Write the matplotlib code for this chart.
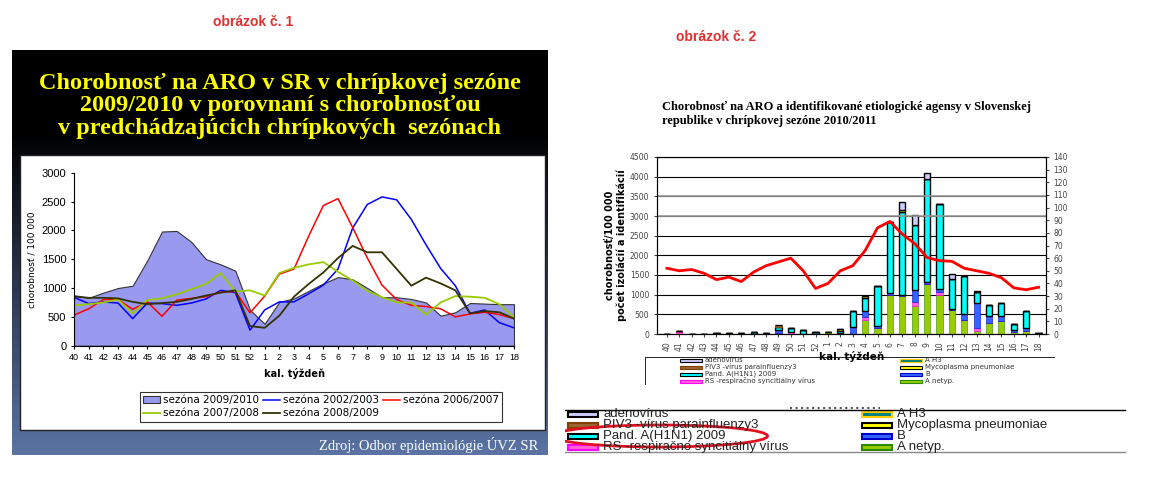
import numpy as np
import matplotlib
matplotlib.use("Agg")
import matplotlib.pyplot as plt
from matplotlib.patches import Rectangle, Ellipse

W, H = 1156, 495
weeks = ["40","41","42","43","44","45","46","47","48","49","50","51","52",
         "1","2","3","4","5","6","7","8","9","10","11","12","13","14","15","16","17","18"]

s0910 = [860,830,920,1000,1040,1480,1980,1990,1800,1500,1410,1300,620,380,760,820,950,1080,1190,1150,1000,840,840,810,750,520,580,740,730,720,720]
s0203 = [840,730,760,740,470,740,730,700,740,810,960,920,270,620,760,760,900,1050,1330,2040,2450,2580,2530,2190,1750,1340,1040,560,620,400,310]
s0607 = [530,640,800,800,630,760,510,790,820,850,930,940,570,860,1240,1330,1900,2430,2550,2050,1520,1050,800,700,680,640,500,550,580,540,470]
s0708 = [700,720,750,800,560,790,820,890,980,1070,1260,940,960,870,1260,1350,1410,1450,1280,1130,950,840,750,750,540,750,860,850,830,720,490]
s0809 = [860,830,830,820,760,720,740,760,810,870,920,960,340,310,520,850,1070,1270,1520,1730,1620,1620,1330,1040,1180,1080,960,560,600,580,470]

# right chart (2010/2011)
morbidity_line = [52,50,51,48,43,45,41.5,49,54,57,60,50,36,40,50,54,66,84,89,79,71.5,60.5,58,57.5,52,50,48,44.5,36.5,35,37]
a_netyp = [0,0,0,0,0,0,0,0,0,30,0,0,0,40,20,0,350,150,1000,970,720,1270,1000,600,350,80,280,330,50,80,0]
rs      = [0,70,0,0,0,0,0,0,0,0,50,0,0,0,0,0,80,0,0,0,100,0,60,0,0,70,0,0,0,0,0]
b_vir   = [0,0,0,0,0,0,0,0,20,60,0,0,0,0,0,170,150,50,40,30,300,50,80,30,160,630,170,120,50,60,0]
pand    = [0,0,0,0,20,20,20,50,0,80,100,100,60,0,60,420,340,1020,1810,2090,1640,2630,2160,770,960,280,300,330,150,440,20]
myco    = [0,0,0,0,0,0,0,0,0,0,0,0,0,0,50,0,40,0,0,50,0,0,0,0,0,0,0,0,0,0,0]
ah3     = [0]*31
piv3    = [0,0,0,0,0,0,0,0,0,70,0,0,0,0,0,0,0,0,0,0,0,0,0,0,0,0,0,0,0,0,0]
adeno   = [0,0,0,0,0,0,0,0,0,0,0,0,0,0,0,0,0,0,0,220,260,150,0,130,0,30,0,0,0,0,0]

def ax_px(x0, y0, x1, y1, **kw):
    return fig.add_axes([x0/W, 1-y1/H, (x1-x0)/W, (y1-y0)/H], **kw)

fig = plt.figure(figsize=(W/100, H/100), dpi=100)
fig.patch.set_facecolor("white")

fig.text(253/W, 1-22/H, "obrázok č. 1", color="#e03030", fontsize=10, fontweight="bold",
         ha="center", va="center", family="Liberation Sans")
fig.text(716/W, 1-37/H, "obrázok č. 2", color="#e03030", fontsize=10, fontweight="bold",
         ha="center", va="center", family="Liberation Sans")

# ---------- left panel background ----------
bg = ax_px(12, 50, 548, 455)
grad = np.ones((100, 1, 3))
t = np.clip((np.linspace(0, 1, 100) - 0.2) / 0.8, 0, 1)
for i, c in enumerate([0x5a, 0x73, 0xa3]):
    grad[:, 0, i] = t * c / 255
bg.imshow(grad, aspect="auto", extent=[0, 1, 0, 1], origin="upper")
bg.add_patch(Rectangle((8/536, (455-430)/405), (545-20)/536, (430-155)/405,
                       facecolor="white", edgecolor="#222222", lw=1))
bg.set_xlim(0, 1); bg.set_ylim(0, 1); bg.axis("off")
fig.text(280/W, 1-106/H, "Chorobnosť na ARO v SR v chrípkovej sezóne\n2009/2010 v porovnaní s chorobnosťou\nv predchádzajúcich chrípkových  sezónach",
         color="#ffff00", fontsize=17.5, fontweight="bold", family="Liberation Serif",
         ha="center", va="center", linespacing=1.1)
fig.text(538/W, 1-445/H, "Zdroj: Odbor epidemiológie ÚVZ SR", color="white", fontsize=10.5,
         family="Liberation Serif", ha="right", va="center")

# ---------- left chart ----------
ax = ax_px(74, 172.7, 514, 345.7)
x = np.arange(len(weeks))
ax.fill_between(x, s0910, color="#9999f0", edgecolor="#333333", lw=0.8, label="sezóna 2009/2010")
ax.plot(x, s0203, color="#0000ff", lw=1.1, label="sezóna 2002/2003")
ax.plot(x, s0607, color="#ff0000", lw=1.1, label="sezóna 2006/2007")
ax.plot(x, s0708, color="#99cc00", lw=1.3, label="sezóna 2007/2008")
ax.plot(x, s0809, color="#333300", lw=1.3, label="sezóna 2008/2009")
ax.set_xlim(0, 30); ax.set_ylim(0, 3000)
ax.set_yticks(range(0, 3001, 500))
ax.set_xticks(x); ax.set_xticklabels(weeks)
ax.tick_params(labelsize=6.5, length=2)
ax.tick_params(axis="y", labelsize=8)
for s in ["top", "right"]:
    ax.spines[s].set_visible(False)
ax.set_ylabel("chorobnosť / 100 000", fontsize=6.5)
ax.set_xlabel("kal. týždeň", fontsize=7, fontweight="bold", labelpad=4)
for tl in ax.get_xticklabels() + ax.get_yticklabels():
    tl.set_family("Liberation Sans")
h, l = ax.get_legend_handles_labels()
order = [0, 3, 1, 4, 2]
leg = fig.legend([h[i] for i in order], [l[i] for i in order], ncol=3,
                 loc="upper left", bbox_to_anchor=(135/W, 1-387/H),
                 fontsize=7.5, frameon=True, handlelength=1.6, handletextpad=0.3,
                 columnspacing=0.4, borderpad=0.3, labelspacing=0.3, fancybox=False)
leg.get_frame().set_edgecolor("black")
leg.get_frame().set_linewidth(0.8)

# ---------- right chart ----------
fig.text(662/W, 1-114/H, "Chorobnosť na ARO a identifikované etiologické agensy v Slovenskej\nrepublike v chrípkovej sezóne 2010/2011",
         fontsize=9, fontweight="bold", family="Liberation Serif", ha="left", va="center",
         linespacing=1.3)
ax2 = ax_px(657, 157, 1046, 334)
comps = [
    (a_netyp, "#99cc00", "#2a8a00", "A netyp."),
    (rs, "#ff66cc", "#ff00ff", "RS -respiračno syncitiálny vírus"),
    (b_vir, "#3366ff", "#0000cc", "B"),
    (pand, "#00ffff", "black", "Pand. A(H1N1) 2009"),
    (myco, "#ffff00", "black", "Mycoplasma pneumoniae"),
    (ah3, "#008080", "#ffcc00", "A H3"),
    (piv3, "#996633", "#804000", "PIV3 -vírus parainfluenzy3"),
    (adeno, "#ccccff", "black", "adenovírus"),
]
bottom = np.zeros(len(weeks))
for vals, fc, ec, lab in comps:
    v = np.array(vals, dtype=float)
    ax2.bar(x, v, bottom=bottom, width=0.5, color=fc, edgecolor=ec, lw=1.0 if ec == "black" else 0.4)
    bottom += v
ax2.set_xlim(-0.8, 30.6); ax2.set_ylim(0, 4500)
ax2.set_yticks(range(0, 4501, 500))
ax2.yaxis.grid(True, color="black", lw=0.8)
for yv in (3000, 3500):
    ax2.axhline(yv, color="#999999", lw=1.2)
ax2.set_axisbelow(True)
ax2.set_xticks(x); ax2.set_xticklabels(weeks, rotation=90)
ax2.tick_params(labelsize=5.5, length=2, colors="#444444")
ax2.set_ylabel("chorobnosť/100 000\npočet izolácií a identifikácií", fontsize=7, fontweight="bold", labelpad=2)
ax2.set_xlabel("kal. týždeň", fontsize=7.5, fontweight="bold", labelpad=0)
ax3 = ax2.twinx()
ax3.plot(x, morbidity_line, color="#ff0000", lw=2)
ax3.set_ylim(0, 140); ax3.set_yticks(range(0, 141, 10))
ax3.tick_params(labelsize=5.5, length=2, colors="#444444")

# small legend (partially visible)
lg = ax_px(645, 357, 1055, 385)
lg.set_xlim(0, 410); lg.set_ylim(28, 0); lg.axis("off")
lg.plot([0, 0, 410, 410], [28, 0, 0, 28], color="black", lw=0.6)
left_items = [comps[7], comps[6], comps[3], comps[1]]
right_items = [comps[5], comps[4], comps[2], comps[0]]
for i, (it_l, it_r) in enumerate(zip(left_items, right_items)):
    yy = 3 + i * 7
    for xx, it in ((35, it_l), (255, it_r)):
        lg.add_patch(Rectangle((xx, yy - 1.5), 22, 3, facecolor=it[1], edgecolor=it[2], lw=0.8))
        lg.text(xx + 25, yy, it[3], fontsize=5, va="center", color="#333333")

# enlarged legend
big = ax_px(565, 395, 1140, 460)
big.set_xlim(565, 1140); big.set_ylim(460, 395); big.axis("off")
big.plot([565, 1125], [410, 410], color="black", lw=1)
big.plot([565, 1125], [452, 452], color="#888888", lw=1)
big.plot([790, 880], [408, 408], color="#555555", lw=1.5, ls=":")
for i, (it_l, it_r) in enumerate(zip(left_items, right_items)):
    yy = 414.5 + i * 11
    for xx, it in ((568, it_l), (862, it_r)):
        big.add_patch(Rectangle((xx, yy - 2.5), 30, 5, facecolor=it[1], edgecolor=it[2], lw=1.5))
        big.text(xx + 35, yy, it[3], fontsize=9.5, va="center", color="#222222",
                 family="Liberation Sans")
big.add_patch(Ellipse((660, 436), 215, 22, fill=False, edgecolor="#e01020", lw=2))

fig.savefig("out.png", dpi=100, facecolor="white")
